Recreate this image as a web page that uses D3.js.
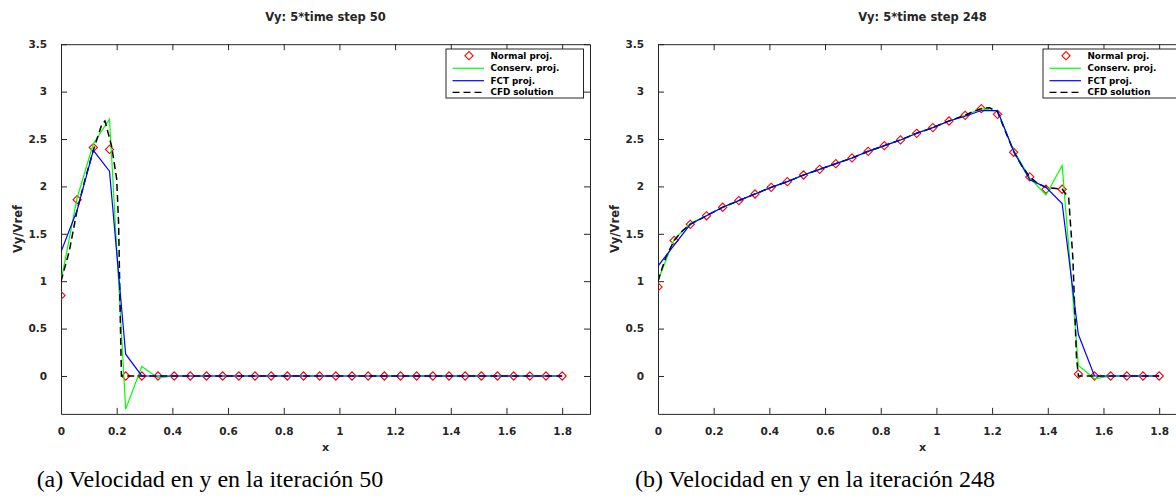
<!DOCTYPE html>
<html><head><meta charset="utf-8">
<script src="https://cdn.jsdelivr.net/npm/d3@7"></script>
<style>
html,body{margin:0;padding:0;background:#fff;}
svg{display:block;}
</style></head>
<body>
<svg id="chart" width="1176" height="497"></svg>
<script>
// ---------- data ----------
const gridX = [0, 0.0581, 0.1161, 0.1742, 0.2323, 0.2903, 0.3484, 0.4065, 0.4645, 0.5226, 0.5806, 0.6387, 0.6968, 0.7548, 0.8129, 0.8710, 0.9290, 0.9871, 1.0452, 1.1032, 1.1613, 1.2194, 1.2774, 1.3355, 1.3935, 1.4516, 1.5097, 1.5677, 1.6258, 1.6839, 1.7419, 1.8];

// panel (a): time step 50
const normalA = [0.85, 1.86, 2.41, 2.39, 0, 0, 0, 0, 0, 0, 0, 0, 0, 0, 0, 0, 0, 0, 0, 0, 0, 0, 0, 0, 0, 0, 0, 0, 0, 0, 0, 0];
const conservA = [1.0, 1.88, 2.45, 2.71, -0.35, 0.10, -0.02, 0, 0, 0, 0, 0, 0, 0, 0, 0, 0, 0, 0, 0, 0, 0, 0, 0, 0, 0, 0, 0, 0, 0, 0, 0];
const fctA = [1.31, 1.75, 2.38, 2.16, 0.23, 0, 0, 0, 0, 0, 0, 0, 0, 0, 0, 0, 0, 0, 0, 0, 0, 0, 0, 0, 0, 0, 0, 0, 0, 0, 0, 0];
const cfdAx = [0, 0.03, 0.058, 0.087, 0.116, 0.146, 0.158, 0.182, 0.2, 0.207, 0.213, 0.217, 0.5, 1.0, 1.5, 1.8];
const cfdAy = [1.0, 1.32, 1.75, 2.08, 2.38, 2.65, 2.69, 2.42, 2.08, 1.6, 0.6, 0.0, 0, 0, 0, 0];

// panel (b): time step 248
const normalB = [0.94, 1.43, 1.60, 1.69, 1.78, 1.85, 1.92, 1.99, 2.05, 2.12, 2.18, 2.24, 2.30, 2.37, 2.43, 2.49, 2.56, 2.62, 2.69, 2.75, 2.82, 2.76, 2.36, 2.10, 1.97, 1.97, 0.02, 0, 0, 0, 0, 0];
const conservB = [1.01, 1.44, 1.61, 1.69, 1.78, 1.85, 1.92, 1.99, 2.05, 2.12, 2.18, 2.24, 2.30, 2.37, 2.43, 2.49, 2.56, 2.62, 2.69, 2.75, 2.82, 2.79, 2.38, 2.09, 1.91, 2.22, 0.11, -0.03, 0, 0, 0, 0];
const fctB = [1.16, 1.38, 1.60, 1.69, 1.78, 1.85, 1.92, 1.99, 2.05, 2.12, 2.18, 2.24, 2.30, 2.37, 2.43, 2.49, 2.56, 2.62, 2.69, 2.74, 2.80, 2.80, 2.37, 2.07, 1.99, 1.82, 0.44, 0, 0, 0, 0, 0];
const cfdBx = [0, 0.013, 0.029, 0.058, 0.087, 0.116, 0.174, 0.232, 0.290, 0.348, 0.406, 0.465, 0.523, 0.581, 0.639, 0.697, 0.755, 0.813, 0.871, 0.929, 0.987, 1.045, 1.103, 1.132, 1.161, 1.19, 1.219, 1.248, 1.277, 1.306, 1.335, 1.364, 1.394, 1.423, 1.452, 1.475, 1.49, 1.503, 1.51, 1.8];
const cfdBy = [1.0, 1.12, 1.26, 1.43, 1.53, 1.60, 1.69, 1.78, 1.85, 1.92, 1.99, 2.05, 2.12, 2.18, 2.24, 2.30, 2.37, 2.43, 2.49, 2.56, 2.62, 2.69, 2.75, 2.79, 2.82, 2.83, 2.79, 2.58, 2.37, 2.22, 2.10, 2.03, 1.99, 1.98, 1.97, 1.88, 1.25, 0.2, 0.0, 0.0];

const xTicks = [0, 0.2, 0.4, 0.6, 0.8, 1, 1.2, 1.4, 1.6, 1.8];
const yTicks = [0, 0.5, 1, 1.5, 2, 2.5, 3, 3.5];
const xDomain = [0, 1.9];
const yDomain = [-0.4, 3.5];
const legendLabels = ["Normal proj.", "Conserv. proj.", "FCT proj.", "CFD solution"];
const titles = ["Vy: 5*time step 50", "Vy: 5*time step 248"];
const captions = ["(a) Velocidad en y en la iteración 50", "(b) Velocidad en y en la iteración 248"];

// ---------- drawing ----------
const svg = d3.select("#chart");
svg.append("rect").attr("width", 1176).attr("height", 497).attr("fill", "#fff");

const AX = "#262626";
const FONT = "'DejaVu Sans', sans-serif";

const panels = [
  {x0: 61, x1: 590, normal: normalA, conserv: conservA, fct: fctA, cfdx: cfdAx, cfdy: cfdAy, title: titles[0], caption: captions[0], capX: 210},
  {x0: 658, x1: 1187, normal: normalB, conserv: conservB, fct: fctB, cfdx: cfdBx, cfdy: cfdBy, title: titles[1], caption: captions[1], capX: 815}
];

const yTop = 44.2, yBot = 413.9;
const markerSym = d3.symbol().type(d3.symbolSquare).size(34);

panels.forEach(p => {
  const x = d3.scaleLinear().domain(xDomain).range([p.x0, p.x1]);
  const y = d3.scaleLinear().domain(yDomain).range([yBot, yTop]);
  const g = svg.append("g");

  const clipId = "clip" + p.x0;
  svg.append("clipPath").attr("id", clipId).append("rect")
    .attr("x", p.x0).attr("y", yTop).attr("width", p.x1 - p.x0).attr("height", yBot - yTop);

  // axes (box with inward ticks)
  const xb = g.append("g").attr("transform", `translate(0,${yBot})`)
    .call(d3.axisBottom(x).tickValues(xTicks).tickSizeInner(-6).tickSizeOuter(0).tickPadding(14)
      .tickFormat(d3.format("~g")));
  const xt = g.append("g").attr("transform", `translate(0,${yTop})`)
    .call(d3.axisTop(x).tickValues(xTicks).tickSizeInner(-6).tickSizeOuter(0).tickFormat(""));
  const yl = g.append("g").attr("transform", `translate(${p.x0},0)`)
    .call(d3.axisLeft(y).tickValues(yTicks).tickSizeInner(-6).tickSizeOuter(0).tickPadding(14)
      .tickFormat(d3.format("~g")));
  const yr = g.append("g").attr("transform", `translate(${p.x1},0)`)
    .call(d3.axisRight(y).tickValues(yTicks).tickSizeInner(-6).tickSizeOuter(0).tickFormat(""));
  [xb, xt, yl, yr].forEach(a => {
    a.selectAll("path").attr("stroke", AX).attr("stroke-width", 1);
    a.selectAll("line").attr("stroke", AX).attr("stroke-width", 1);
    a.selectAll("text").attr("fill", AX).attr("font-family", FONT).attr("font-weight", "bold").attr("font-size", "10.5px");
  });

  const plot = g.append("g").attr("clip-path", `url(#${clipId})`);

  // markers (Normal proj.)
  plot.selectAll("path.mk").data(p.normal).join("path").attr("class", "mk")
    .attr("d", markerSym)
    .attr("transform", (d, i) => `translate(${x(gridX[i])},${y(d)}) rotate(45)`)
    .attr("fill", "none").attr("stroke", "#ff0000").attr("stroke-width", 1.1);

  const line = d3.line().x(d => x(d[0])).y(d => y(d[1]));
  // Conserv. proj.
  plot.append("path").datum(p.conserv.map((v, i) => [gridX[i], v])).attr("d", line)
    .attr("fill", "none").attr("stroke", "#00ff00").attr("stroke-width", 1.2);
  // CFD solution
  plot.append("path").datum(p.cfdx.map((v, i) => [v, p.cfdy[i]])).attr("d", line)
    .attr("fill", "none").attr("stroke", "#000").attr("stroke-width", 1.5).attr("stroke-dasharray", "7,4");
  // FCT proj.
  plot.append("path").datum(p.fct.map((v, i) => [gridX[i], v])).attr("d", line)
    .attr("fill", "none").attr("stroke", "#0000ff").attr("stroke-width", 1.2);

  // title
  g.append("text").attr("x", (p.x0 + p.x1) / 2).attr("y", 21).attr("text-anchor", "middle")
    .attr("font-family", FONT).attr("font-weight", "bold").attr("font-size", "11.5px").attr("fill", AX)
    .text(p.title);
  // x label
  g.append("text").attr("x", (p.x0 + p.x1) / 2).attr("y", 451).attr("text-anchor", "middle")
    .attr("font-family", FONT).attr("font-weight", "bold").attr("font-size", "11px").attr("fill", AX)
    .text("x");
  // y label
  g.append("text").attr("transform", `translate(${p.x0 - 39},${(yTop + yBot) / 2}) rotate(-90)`)
    .attr("text-anchor", "middle")
    .attr("font-family", FONT).attr("font-weight", "bold").attr("font-size", "11.5px").attr("fill", AX)
    .text("Vy/Vref");
  // caption
  g.append("text").attr("x", p.capX).attr("y", 487).attr("text-anchor", "middle")
    .attr("font-family", "'Liberation Serif', 'Times New Roman', serif").attr("font-size", "24px").attr("fill", "#000")
    .text(p.caption);

  // legend
  const lx = p.x1 - 144, ly = 49, lw = 137.5, lh = 49;
  const lg = g.append("g");
  lg.append("rect").attr("x", lx).attr("y", ly).attr("width", lw).attr("height", lh)
    .attr("fill", "#fff").attr("stroke", AX).attr("stroke-width", 1);
  const rowY = [55.7, 68.3, 80.7, 92.3];
  legendLabels.forEach((lab, i) => {
    const ry = rowY[i];
    if (i === 0) {
      lg.append("path").attr("d", markerSym)
        .attr("transform", `translate(${lx + 23},${ry}) rotate(45)`)
        .attr("fill", "none").attr("stroke", "#ff0000").attr("stroke-width", 1.1);
    } else {
      const col = i === 1 ? "#00ff00" : i === 2 ? "#0000ff" : "#000";
      const ln = lg.append("line").attr("x1", lx + 6.5).attr("x2", lx + 38).attr("y1", ry).attr("y2", ry)
        .attr("stroke", col).attr("stroke-width", i === 3 ? 1.3 : 1.2);
      if (i === 3) ln.attr("stroke-dasharray", "7,4");
    }
    lg.append("text").attr("x", lx + 44.5).attr("y", ry).attr("dy", "0.35em")
      .attr("font-family", FONT).attr("font-weight", "bold").attr("font-size", "8.8px").attr("fill", "#000")
      .text(lab);
  });
});
</script>
</body></html>
